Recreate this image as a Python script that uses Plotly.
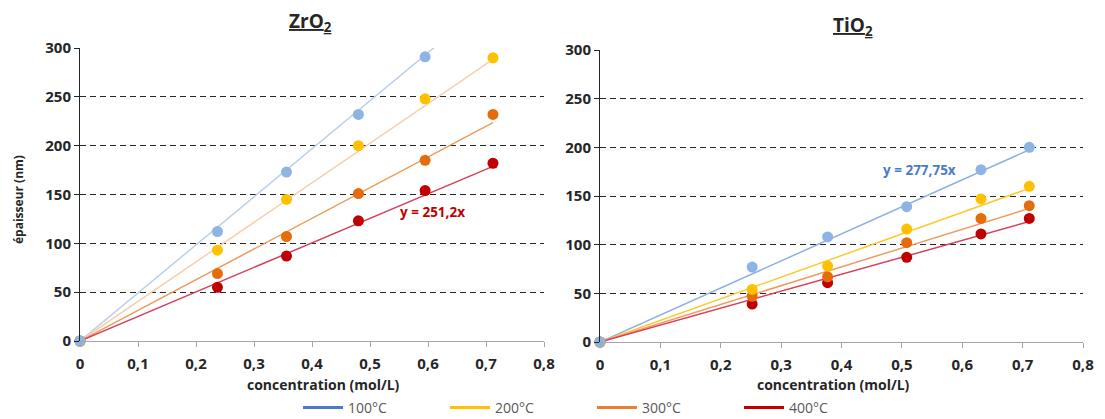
import plotly.graph_objects as go

# ---------------- data ----------------
temps = ["100°C", "200°C", "300°C", "400°C"]

zr_x = [0, 0.237, 0.356, 0.48, 0.595, 0.712]
zr_100 = [0, 112, 173, 232, 291]
zr_200 = [0, 93, 145, 200, 248, 290]
zr_300 = [0, 69, 107, 151, 185, 232]
zr_400 = [0, 55, 87, 123, 154, 182]
zr_slopes = [492, 405, 314, 251.2]

ti_x = [0, 0.252, 0.377, 0.508, 0.631, 0.711]
ti_100 = [0, 77, 108, 139, 177, 200]
ti_200 = [0, 54, 78, 116, 147, 160]
ti_300 = [0, 47, 67, 102, 127, 140]
ti_400 = [0, 39, 61, 87, 111, 127]
ti_slopes = [277.75, 222, 193, 174]

x_ticks = [0, 0.1, 0.2, 0.3, 0.4, 0.5, 0.6, 0.7, 0.8]
x_ticktext = ["0", "0,1", "0,2", "0,3", "0,4", "0,5", "0,6", "0,7", "0,8"]
y_ticks = [0, 50, 100, 150, 200, 250, 300]

# ---------------- styles ----------------
marker_colors = ["#8DB4E2", "#FFC000", "#E46C0A", "#C00000"]
legend_colors = ["#4A7BC8", "#FFC000", "#ED7D31", "#C00000"]
zr_trend_colors = ["#BCD0EA", "#F8CFAA", "#EE9A5A", "#D6405A"]
ti_trend_colors = ["#8DB0E0", "#FFC72C", "#F29A5C", "#D9405A"]

FONT = "Open Sans"
TXT = "#262626"
OFF = 8  # page body margin of the html page
FW, FH = 1105 - OFF, 419 - OFF
# plot region in (screen) pixels
L, R, T, B = 80, 1083, 48, 342
W, H = R - L, B - T


def px(x):
    return (x - L) / W


def py(y):
    return (B - y) / H


fig = go.Figure()

zr_series = [zr_100, zr_200, zr_300, zr_400]
ti_series = [ti_100, ti_200, ti_300, ti_400]

for i in range(4):
    xe = max(zr_x)
    fig.add_trace(go.Scatter(x=[0, xe], y=[0, zr_slopes[i] * xe], mode="lines",
                             line=dict(color=zr_trend_colors[i], width=1.5),
                             xaxis="x", yaxis="y", showlegend=False, hoverinfo="skip"))
    xe = max(ti_x)
    fig.add_trace(go.Scatter(x=[0, xe], y=[0, ti_slopes[i] * xe], mode="lines",
                             line=dict(color=ti_trend_colors[i], width=1.5),
                             xaxis="x2", yaxis="y2", showlegend=False, hoverinfo="skip"))

for i in range(3, -1, -1):
    ys = zr_series[i]
    fig.add_trace(go.Scatter(x=zr_x[:len(ys)], y=ys, mode="markers",
                             marker=dict(color=marker_colors[i], size=11),
                             xaxis="x", yaxis="y", showlegend=False, cliponaxis=False))
    ys = ti_series[i]
    fig.add_trace(go.Scatter(x=ti_x[:len(ys)], y=ys, mode="markers",
                             marker=dict(color=marker_colors[i], size=11),
                             xaxis="x2", yaxis="y2", showlegend=False, cliponaxis=False))

for i in range(4):
    fig.add_trace(go.Scatter(x=[None], y=[None], mode="lines", name=temps[i],
                             line=dict(color=legend_colors[i], width=3),
                             xaxis="x", yaxis="y"))

xa = dict(range=[0, 0.8], tickvals=x_ticks, ticktext=x_ticktext, showgrid=False,
          zeroline=False, showline=True, linecolor="#A6A6A6", linewidth=1,
          ticks="outside", ticklen=5, tickcolor="#A6A6A6", automargin=False,
          ticklabelstandoff=4,
          tickfont=dict(family=FONT, size=15, color=TXT, weight="bold"))
ya = dict(range=[0, 300], tickvals=y_ticks, showgrid=True, gridcolor=TXT,
          griddash="6px,4px", gridwidth=1, zeroline=False, showline=True,
          linecolor=TXT, linewidth=1, ticks="outside", ticklen=5,
          tickcolor=TXT, automargin=False,
          tickfont=dict(family=FONT, size=15, color=TXT, weight="bold"))

fig.update_layout(
    width=FW, height=FH,
    margin=dict(l=L - OFF, r=1105 - R, t=T - OFF, b=419 - B, autoexpand=False),
    paper_bgcolor="white", plot_bgcolor="white",
    xaxis=dict(xa, domain=[0, px(544)], anchor="y"),
    yaxis=dict(ya, domain=[py(341), 1], anchor="x"),
    xaxis2=dict(xa, domain=[px(600), 1], anchor="y2"),
    yaxis2=dict(ya, domain=[0, py(50)], anchor="x2"),
    legend=dict(orientation="h", x=px(298), xanchor="left", y=py(408), yanchor="middle",
                font=dict(family=FONT, size=14, color="#595959"),
                entrywidth=92, itemwidth=40, bgcolor="rgba(0,0,0,0)"),
    showlegend=True,
)


def ann(text, x, y, size, color=TXT, xref="paper", yref="paper", angle=0):
    return dict(text=text, x=x, y=y, xref=xref, yref=yref, xanchor="center",
                yanchor="middle", showarrow=False, textangle=angle,
                font=dict(family=FONT, size=size, color=color))


annots = [
    ann("<b><u>ZrO<sub>2</sub></u></b>", px(310), py(22), 19),
    ann("<b><u>TiO<sub>2</sub></u></b>", px(853), py(26), 19),
    ann("<b>concentration (mol/L)</b>", px(323), py(384), 14),
    ann("<b>concentration (mol/L)</b>", px(833), py(384), 14),
    ann("<b>épaisseur (nm)</b>", px(18), py(200), 12, angle=-90),
    ann("<b>y = 251,2x</b>", 0.607, 132, 13.5, "#C00000", "x", "y"),
    ann("<b>y = 277,75x</b>", 0.53, 177, 13.5, "#4A7BC8", "x2", "y2"),
]
fig.update_layout(annotations=annots)

fig.write_html("out.html")
